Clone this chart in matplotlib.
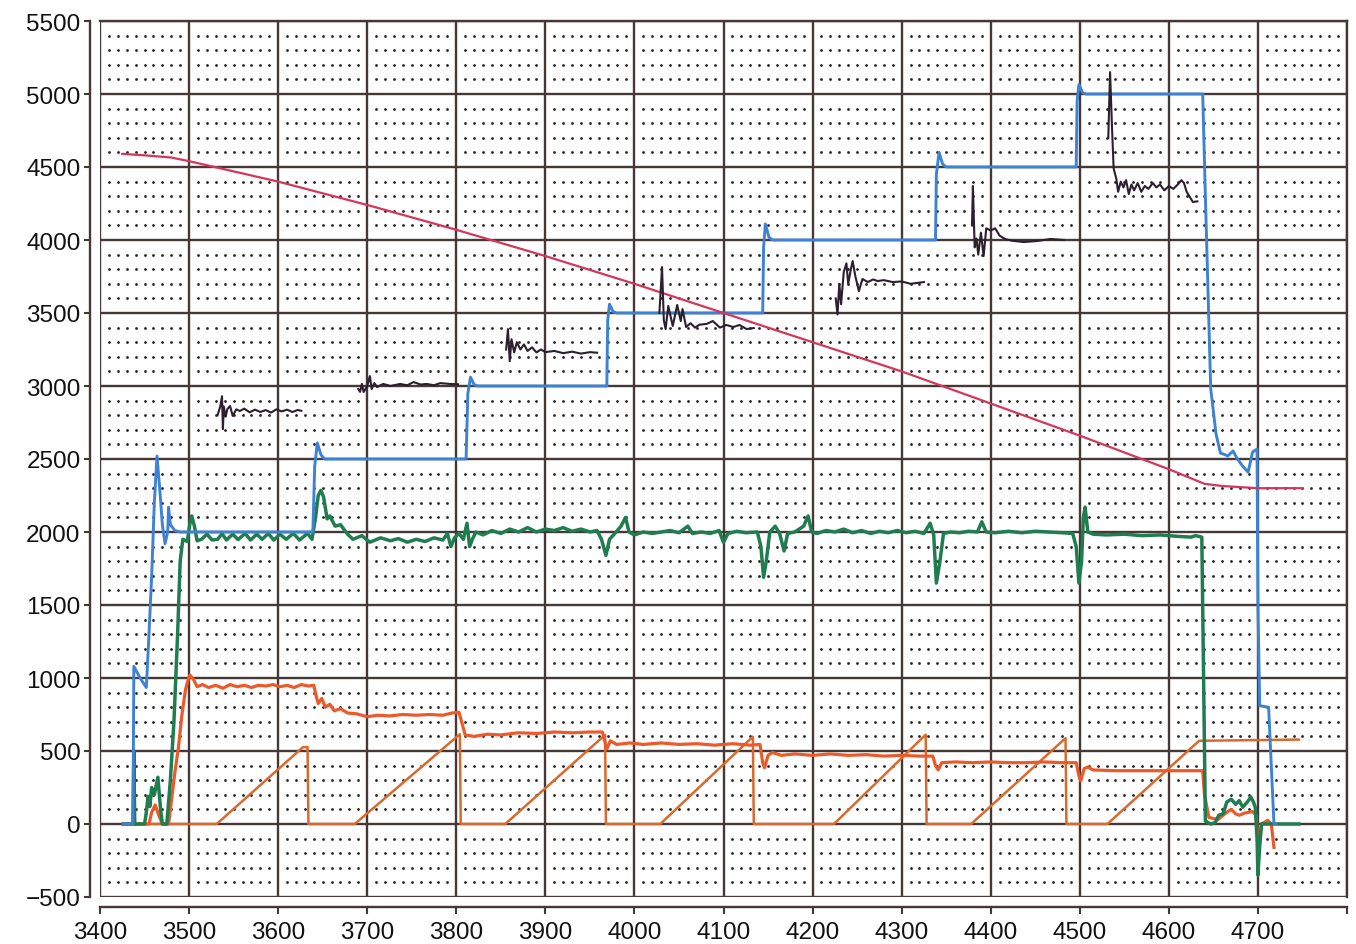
import numpy as np
import matplotlib
matplotlib.use("Agg")
import matplotlib.pyplot as plt
from matplotlib.ticker import FixedLocator, FuncFormatter

# ---------------- data ----------------
x_ticks = list(range(3400, 4801, 100))
x_tick_labels = [str(v) for v in range(3400, 4701, 100)] + [""]
y_ticks = list(range(-500, 5501, 500))

# pink: descending curve
pink_x = [3425, 3450, 3480, 3500, 3600, 3700, 3800, 3900, 4000, 4100, 4200, 4300,
          4400, 4500, 4600, 4640, 4660, 4700, 4750]
pink_y = [4590, 4580, 4565, 4540, 4400, 4240, 4070, 3890, 3700, 3500, 3300, 3100,
          2880, 2660, 2430, 2330, 2315, 2300, 2300]

# blue: stepped speed
blue_x = [3426, 3437, 3438, 3445, 3452, 3455, 3458, 3461, 3464, 3467, 3470, 3473, 3476,
          3477, 3479, 3484, 3490, 3639, 3641, 3644, 3648, 3652, 3811, 3813, 3816, 3820,
          3824, 3969, 3970, 3972, 3976, 3980, 4144, 4145, 4147, 4151, 4155, 4338, 4339,
          4342, 4346, 4350, 4496, 4497, 4499, 4503, 4507, 4638, 4641, 4647, 4653, 4658,
          4663, 4666, 4672, 4677, 4683, 4689, 4694, 4699, 4700, 4702, 4712, 4715, 4718,
          4720]
blue_y = [0, 0, 1080, 1000, 935, 1300, 1700, 2200, 2520, 2300, 2050, 1920, 2000,
          2170, 2050, 2010, 2000, 2000, 2450, 2610, 2530, 2500, 2500, 2950, 3060, 3010,
          3000, 3000, 3450, 3560, 3510, 3500, 3500, 3950, 4110, 4020, 4000, 4000, 4450,
          4600, 4520, 4500, 4500, 4950, 5065, 5010, 5000, 5000, 4300, 2980, 2670, 2540,
          2530, 2520, 2555, 2500, 2450, 2410, 2548, 2568, 1500, 810, 800, 400, 0,
          0]

# green
green_x = [3426, 3437, 3438, 3439, 3450, 3452, 3454, 3456, 3458, 3461, 3465, 3468, 3470,
           3475, 3479, 3483, 3487, 3490, 3493, 3498, 3501, 3503, 3506, 3509, 3514, 3520,
           3526, 3532, 3537, 3542, 3549, 3555, 3563, 3569, 3576, 3582, 3589, 3595, 3602,
           3609, 3617, 3624, 3633, 3638, 3642, 3645, 3648, 3651, 3655, 3658, 3664, 3670,
           3678, 3684, 3694, 3703, 3715, 3726, 3735, 3745, 3755, 3765, 3775, 3785, 3790,
           3794, 3798, 3803, 3808, 3812, 3815, 3818, 3822, 3830, 3840, 3850, 3860, 3870,
           3880, 3890, 3900, 3910, 3920, 3930, 3940, 3950, 3958, 3963, 3968, 3972, 3978,
           3985, 3990, 3994, 4000, 4010, 4020, 4030, 4040, 4050, 4060, 4065, 4075, 4085,
           4095, 4100, 4105, 4115, 4125, 4138, 4142, 4145, 4148, 4152, 4158, 4163, 4168,
           4172, 4180, 4190, 4195, 4199, 4205, 4215, 4225, 4235, 4245, 4255, 4265, 4275,
           4285, 4295, 4305, 4315, 4325, 4332, 4336, 4339, 4343, 4347, 4355, 4365, 4375,
           4385, 4390, 4395, 4405, 4420, 4435, 4450, 4465, 4480, 4492, 4496, 4499, 4502,
           4504, 4506, 4509, 4515, 4530, 4550, 4570, 4590, 4610, 4625, 4630, 4637, 4639,
           4641, 4647, 4652, 4656, 4661, 4665, 4670, 4675, 4679, 4683, 4688, 4692, 4695,
           4697, 4699, 4700, 4702, 4704, 4746]
green_y = [0, 0, 500, 0, 0, 80, 190, 120, 250, 200, 320, 100, 0,
           0, 300, 700, 1280, 1800, 1950, 1935, 2060, 2110, 2040, 1940, 1950, 1985,
           1945, 1950, 1988, 1945, 1985, 1948, 1990, 1945, 1985, 1950, 1990, 1945, 1985,
           1950, 1990, 1945, 1990, 1950, 2100, 2250, 2285, 2240, 2090, 2110, 2040, 2050,
           1985, 1950, 1975, 1930, 1960, 1940, 1955, 1930, 1950, 1935, 1960, 1945, 1990,
           1900, 1960, 1990, 1950, 2060, 1900, 1950, 2000, 1980, 2010, 1990, 2020, 2000,
           2030, 2000, 2020, 2010, 2030, 2005, 2020, 2000, 2010, 1950, 1840, 1950, 1990,
           2040, 2100, 2000, 1980, 2000, 1990, 2000, 2010, 1995, 2040, 1990, 2000, 1990,
           2010, 1930, 1990, 2005, 1995, 2000, 1900, 1690, 1800, 2000, 2040, 1990, 1870,
           1990, 2000, 2040, 2110, 2000, 1990, 2010, 2000, 2020, 1995, 2010, 1990, 2005,
           1995, 2010, 1995, 2005, 1990, 2060, 1980, 1650, 1800, 1990, 2000, 1995, 2005,
           2000, 2070, 2000, 1995, 2005, 1995, 2005, 2000, 1995, 1990, 1900, 1650, 1800,
           2100, 2170, 2000, 1985, 1980, 1985, 1975, 1980, 1970, 1965, 1975, 1965, 1000,
           20, 0, 10, 60, 70, 150, 170, 135, 160, 115, 150, 185, 150,
           115, -100, -350, -150, 0, 0]

# red-orange (lower level line)
red_x = [3426, 3455, 3458, 3462, 3466, 3470, 3477, 3480, 3484, 3488, 3492, 3496, 3499,
         3501, 3505, 3509, 3515, 3522, 3530, 3538, 3546, 3554, 3562, 3570, 3578, 3586,
         3594, 3602, 3610, 3618, 3626, 3634, 3640, 3643, 3645, 3649, 3653, 3658, 3663,
         3670, 3678, 3688, 3700, 3712, 3725, 3740, 3755, 3770, 3785, 3795, 3803, 3806,
         3810, 3820, 3835, 3850, 3870, 3890, 3910, 3930, 3950, 3964, 3967, 3969, 3973,
         3980, 3995, 4010, 4030, 4050, 4070, 4090, 4110, 4130, 4141, 4144, 4146, 4150,
         4155, 4165, 4180, 4200, 4220, 4240, 4260, 4280, 4300, 4320, 4335, 4338, 4341,
         4345, 4360, 4380, 4400, 4420, 4440, 4460, 4480, 4496, 4499, 4501, 4505, 4509,
         4515, 4540, 4570, 4600, 4638, 4640, 4645, 4655, 4665, 4670, 4675, 4679, 4685,
         4694, 4698, 4701, 4704, 4711, 4715, 4718]
red_y = [0, 0, 80, 130, 60, 0, 0, 150, 350, 520, 750, 920, 990,
         1020, 990, 940, 955, 935, 950, 930, 955, 940, 950, 935, 950, 945,
         955, 940, 950, 935, 955, 945, 950, 870, 825, 860, 800, 820, 775,
         790, 760, 755, 735, 745, 740, 750, 745, 750, 745, 760, 765, 700,
         610, 600, 615, 610, 625, 620, 630, 625, 630, 630, 560, 515, 570,
         545, 555, 545, 555, 545, 550, 540, 550, 540, 545, 420, 385, 470,
         490, 470, 480, 470, 480, 470, 475, 465, 470, 465, 465, 400, 370,
         420, 425, 420, 425, 420, 420, 425, 420, 420, 330, 295, 380, 390,
         370, 365, 365, 365, 365, 200, 45, 30, 80, 100, 70, 60, 75,
         85, 60, -190, 0, 25, 0, -160]

# orange sawtooth
saw_x = [3426, 3531, 3628, 3633, 3634, 3686, 3804, 3805, 3855, 3967, 3968, 4029, 4133,
         4134, 4224, 4327, 4328, 4378, 4484, 4485, 4531, 4634, 4746]
saw_y = [0, 0, 527, 527, 0, 0, 615, 0, 0, 610, 0, 0, 598,
         0, 0, 612, 0, 0, 588, 0, 0, 570, 578]

# dark noisy line (segments separated by NaN)
nan = float("nan")
dark_x = [3532, 3535, 3537, 3538, 3539, 3541, 3543, 3546, 3549, 3553, 3557, 3562, 3568,
          3574, 3580, 3586, 3592, 3598, 3604, 3610, 3616, 3622, 3626, nan,
          3690, 3692, 3694, 3696, 3700, 3703, 3705, 3708, 3711, 3718, 3726, 3737, 3745,
          3752, 3760, 3767, 3775, 3782, 3793, 3802, nan,
          3856, 3858, 3860, 3862, 3865, 3868, 3872, 3876, 3880, 3885, 3890, 3895, 3900,
          3910, 3920, 3930, 3940, 3950, 3958, nan,
          4028, 4031, 4033, 4035, 4038, 4043, 4048, 4052, 4054, 4058, 4063, 4068, 4073,
          4081, 4088, 4096, 4103, 4111, 4118, 4126, 4134, nan,
          4226, 4228, 4230, 4232, 4235, 4238, 4240, 4243, 4245, 4248, 4252, 4256, 4262,
          4268, 4273, 4280, 4290, 4300, 4310, 4325, nan,
          4379, 4380, 4382, 4384, 4386, 4389, 4392, 4395, 4400, 4405, 4410, 4416, 4424,
          4437, 4452, 4467, 4482, nan,
          4532, 4534, 4536, 4538, 4541, 4543, 4546, 4549, 4552, 4555, 4558, 4561, 4565,
          4569, 4573, 4577, 4582, 4586, 4590, 4595, 4600, 4605, 4610, 4614, 4617, 4620,
          4623, 4627, 4632]
dark_y = [2800, 2860, 2930, 2705, 2860, 2790, 2842, 2863, 2795, 2840, 2829, 2845, 2820,
          2838, 2822, 2835, 2818, 2840, 2826, 2838, 2822, 2836, 2830, nan,
          2979, 2960, 3014, 2959, 3000, 3068, 2979, 3020, 2993, 3014, 3000, 3014, 3005,
          3027, 3010, 3014, 3005, 3020, 3014, 3012, nan,
          3250, 3390, 3170, 3320, 3230, 3300, 3250, 3285, 3240, 3265, 3230, 3250, 3232,
          3240, 3225, 3235, 3222, 3232, 3228, nan,
          3500, 3815, 3450, 3390, 3548, 3411, 3555, 3445, 3527, 3404, 3430, 3400, 3420,
          3425, 3445, 3400, 3418, 3404, 3418, 3390, 3397, nan,
          3600, 3490, 3700, 3560, 3780, 3840, 3700, 3800, 3856, 3753, 3650, 3733, 3712,
          3730, 3719, 3725, 3712, 3716, 3700, 3712, nan,
          4100, 4370, 3950, 4010, 3900, 4050, 3890, 4080, 4065, 4080, 4030, 4007, 3995,
          3986, 3993, 4007, 4000, nan,
          4700, 5150, 4800, 4490, 4420, 4330, 4400, 4360, 4410, 4315, 4380, 4340, 4390,
          4330, 4370, 4350, 4390, 4360, 4380, 4340, 4370, 4350, 4380, 4410, 4390, 4330,
          4300, 4260, 4265]

# ---------------- figure ----------------
plt.rcParams['font.family'] = ['Liberation Sans', 'DejaVu Sans']
fig = plt.figure(figsize=(13.56, 9.45), dpi=100)
ax = fig.add_axes([100 / 1356, 1 - 898 / 945, 1247 / 1356, 876 / 945])
ax.set_xlim(3400, 4800)
ax.set_ylim(-500, 5500)
ax.set_facecolor('white')

grid_col = '#463836'
# dotted minor grid (decoration)
dot_x = [v for v in range(3410, 4800, 10) if v % 100 != 0]
dot_y = [v for v in range(-400, 5500, 100) if v % 500 != 0]
DX, DY = np.meshgrid(dot_x, dot_y)
ax.scatter(DX.ravel(), DY.ravel(), s=4.0, color='#2a2222', linewidths=0, zorder=1)

ax.xaxis.set_major_locator(FixedLocator(x_ticks))
ax.yaxis.set_major_locator(FixedLocator(y_ticks))
ax.xaxis.set_major_formatter(FuncFormatter(
    lambda v, p: x_tick_labels[x_ticks.index(int(round(v)))] if int(round(v)) in x_ticks else ""))
ax.grid(True, color=grid_col, linewidth=1.7, zorder=1.5)
ax.set_axisbelow(True)

for side in ['top', 'right']:
    ax.spines[side].set_color(grid_col)
    ax.spines[side].set_linewidth(1.7)
for side in ['left', 'bottom']:
    ax.spines[side].set_position(('outward', 7))
    ax.spines[side].set_color(grid_col)
    ax.spines[side].set_linewidth(1.7)

ax.tick_params(axis='x', direction='out', length=5, width=1.5, color=grid_col,
               labelsize=17.5, pad=5, labelcolor='#111111')
ax.tick_params(axis='y', direction='out', length=4, width=1.5, color=grid_col,
               labelsize=17.5, pad=3, labelcolor='#111111')

# series
ax.plot(saw_x, saw_y, color='#d86a2e', linewidth=1.8, zorder=3)
ax.plot(red_x, red_y, color='#ec5a2a', linewidth=2.3, zorder=4)
ax.plot(green_x, green_y, color='#1f7d50', linewidth=2.5, zorder=5)
ax.plot(blue_x, blue_y, color='#3e82d4', linewidth=2.1, zorder=6)
ax.plot(pink_x, pink_y, color='#d4365c', linewidth=1.6, zorder=7)
ax.plot(dark_x, dark_y, color='#2c1f2e', linewidth=1.5, zorder=8)

fig.savefig('out.png', dpi=100, facecolor='white')
